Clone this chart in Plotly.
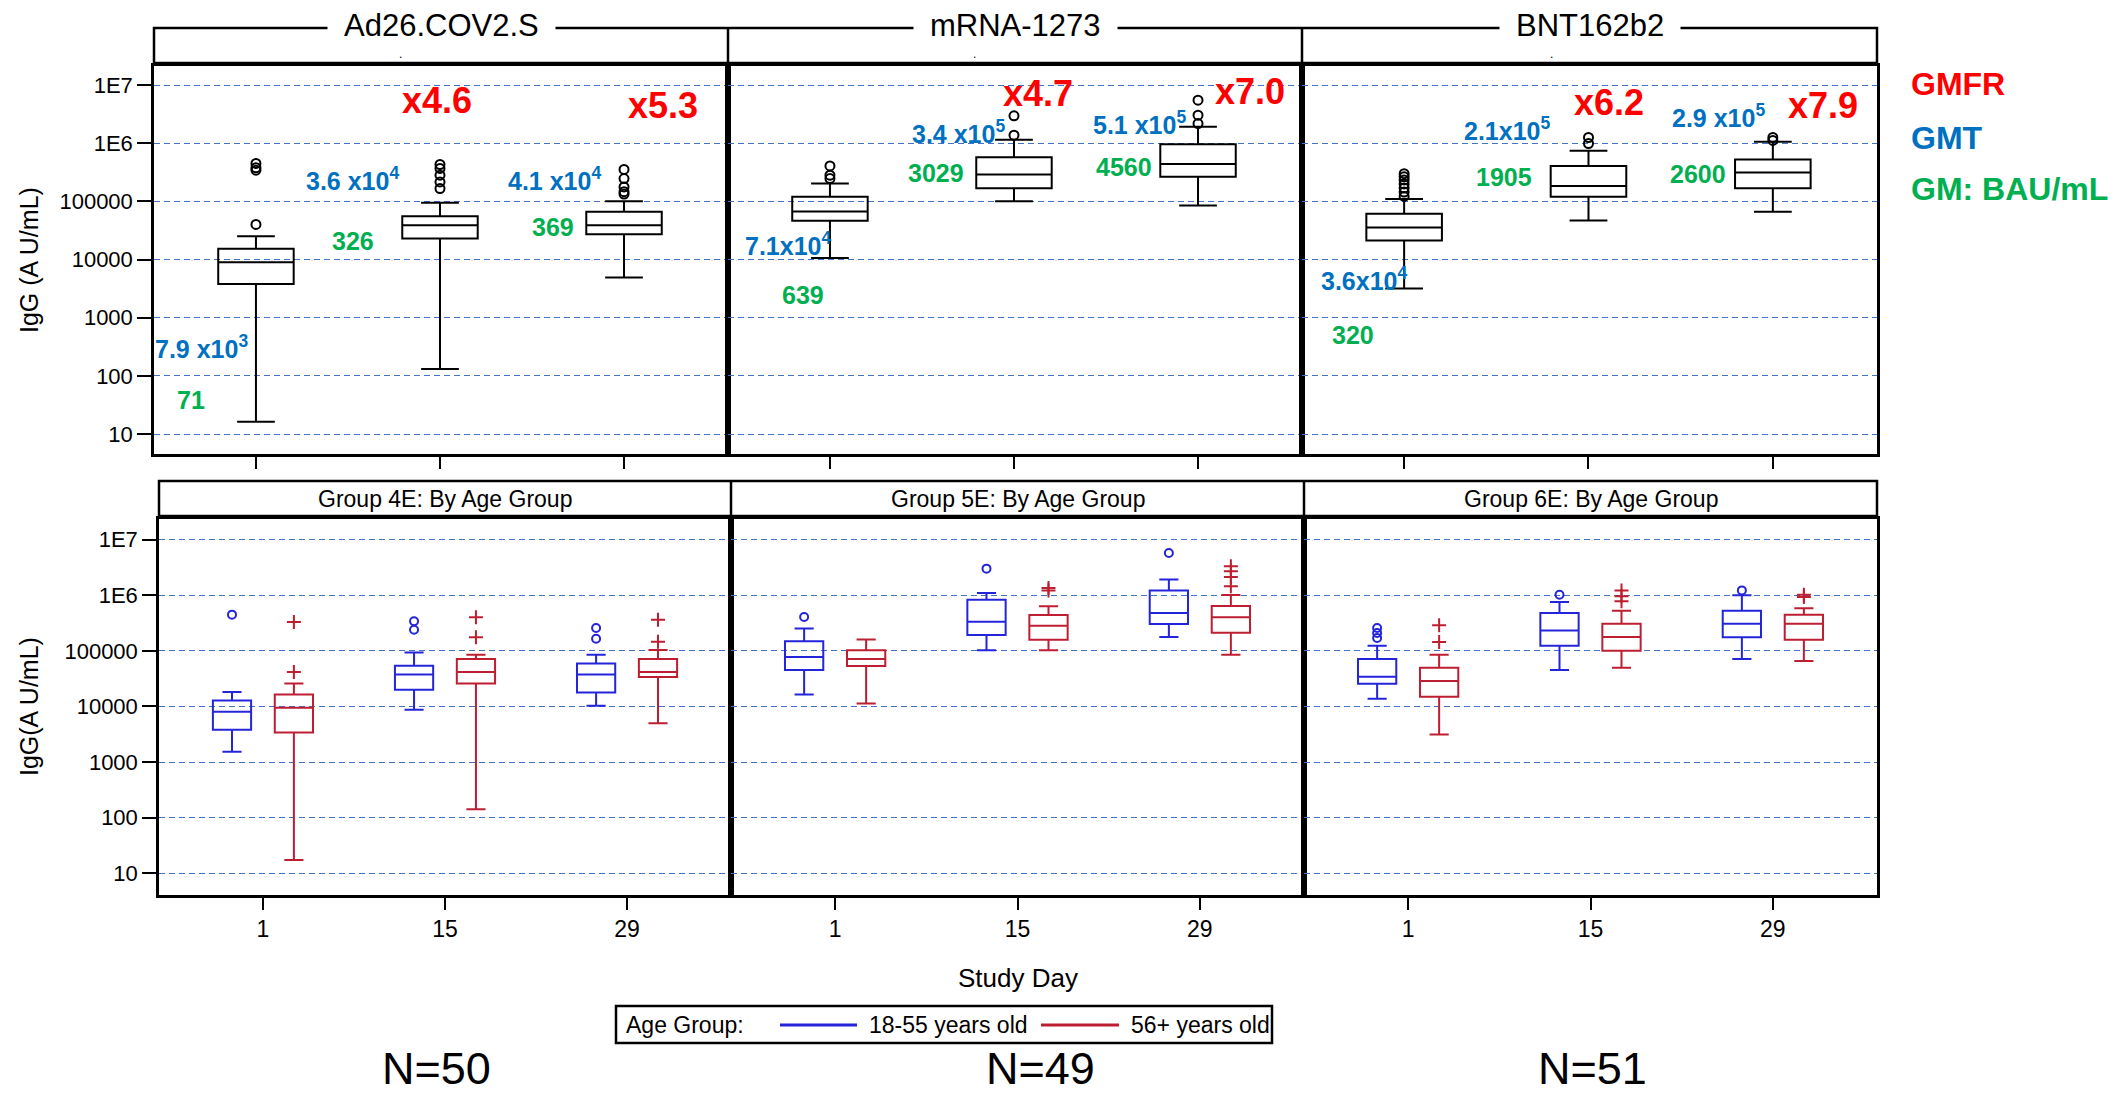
import plotly.graph_objects as go

W, H = 2124, 1096
FONT = "Liberation Sans, Arial, sans-serif"

# ---------------- data ----------------
DAYS = ["1", "15", "29"]
DAY_POS = [1, 2, 3]
VACCINES = ["Ad26.COV2.S", "mRNA-1273", "BNT162b2"]
GROUP_TITLES = ["Group 4E: By Age Group", "Group 5E: By Age Group", "Group 6E: By Age Group"]
N_LABELS = ["N=50", "N=49", "N=51"]
LEGEND_TITLE = "Age Group:"
AGE_GROUPS = ["18-55 years old", "56+ years old"]
Y_TICKVALS = [10, 100, 1000, 10000, 100000, 1000000, 10000000]
Y_TICKTEXT = ["10", "100", "1000", "10000", "100000", "1E6", "1E7"]

# box stats per day: [lower whisker, Q1, median, Q3, upper whisker]
AD26_STATS = [[16.2, 3790, 9040, 15300, 25300], [131, 23100, 39100, 55800, 94700], [4930, 27400, 39100, 66200, 101000]]
AD26_OUT = [[40200, 345000, 380000, 450000], [167000, 217000, 283000, 370000, 432000], [134000, 147000, 178000, 248000, 355000]]
MRNA_STATS = [[10700, 46500, 67300, 120000, 204000], [101000, 169000, 291000, 578000, 1150000], [85300, 265000, 443000, 967000, 1920000]]
MRNA_OUT = [[248000, 283000, 409000], [1380000, 2970000], [2190000, 3050000, 5520000]]
BNT_STATS = [[3190, 21300, 35700, 61300, 110000], [47100, 120000, 185000, 409000, 742000], [66200, 169000, 316000, 527000, 1060000]]
BNT_OUT = [[122000, 145000, 170000, 200000, 235000, 265000, 300000], [993000, 1260000], [1120000, 1260000]]

G4_YOUNG = [[1530, 3800, 8020, 12800, 18100], [8710, 19900, 37700, 53900, 93500], [10300, 17800, 37700, 59400, 85100]]
G4_YOUNG_OUT = [[447000], [240000, 339000], [165000, 257000]]
G4_OLD = [[17.4, 3400, 9460, 16400, 25900], [142, 25900, 41500, 71100, 85100], [5010, 33700, 41500, 71100, 103000]]
G4_OLD_OUT = [[41500, 330000], [175000, 400000], [146000, 363000]]
G5_YOUNG = [[16400, 45100, 77300, 148000, 253000], [102000, 192000, 334000, 832000, 1100000], [177000, 303000, 479000, 1210000, 1910000]]
G5_YOUNG_OUT = [[405000], [3000000], [5750000]]
G5_OLD = [[11300, 53200, 71100, 102000, 160000], [102000, 158000, 283000, 441000, 631000], [85100, 212000, 400000, 640000, 1010000]]
G5_OLD_OUT = [[], [1220000, 1350000], [1450000, 2130000, 2690000, 3310000]]
G6_YOUNG = [[13700, 25600, 34200, 71100, 124000], [45100, 124000, 233000, 479000, 755000], [71100, 175000, 308000, 527000, 995000]]
G6_YOUNG_OUT = [[170000, 209000, 257000], [1020000], [1220000]]
G6_OLD = [[3130, 14900, 28600, 49700, 85100], [49700, 100000, 177000, 308000, 527000], [65500, 158000, 308000, 447000, 581000]]
G6_OLD_OUT = [[144000, 287000], [776000, 955000, 1220000], [929000, 1020000]]

GMFR_TEXT = [[None, "x4.6", "x5.3"], [None, "x4.7", "x7.0"], [None, "x6.2", "x7.9"]]
GMT_TEXT = [["7.9 x10<sup>3</sup>", "3.6 x10<sup>4</sup>", "4.1 x10<sup>4</sup>"],
            ["7.1x10<sup>4</sup>", "3.4 x10<sup>5</sup>", "5.1 x10<sup>5</sup>"],
            ["3.6x10<sup>4</sup>", "2.1x10<sup>5</sup>", "2.9 x10<sup>5</sup>"]]
GM_TEXT = [["71", "326", "369"], ["639", "3029", "4560"], ["320", "1905", "2600"]]

# ---------------- layout geometry (pixels) ----------------
TOP_X_EDGES = [(154, 728), (728, 1302), (1302, 1877)]
TOP_Y_EDGE = (66, 454)
BOT_X_EDGES = [(159, 731), (731, 1304), (1304, 1877)]
BOT_Y_EDGE = (519, 895)
TOP_XRANGE = [0.446, 3.565]
BOT_XRANGE = [0.429, 3.571]
TOP_YRANGE = [0.656, 7.33]
BOT_YRANGE = [0.61, 7.37]

GMFR_POS = [[None, (437, 100), (663, 106)], [None, (1038, 93), (1250, 92)], [None, (1609, 102), (1823, 105)]]
GMT_POS = [[(201, 347), (352, 179), (554, 179)], [(788, 244), (958, 132), (1139, 123)], [(1364, 279), (1507, 129), (1718, 116)]]
GM_POS = [[(191, 400), (353, 241), (553, 227)], [(803, 295), (936, 173), (1124, 167)], [(1353, 335), (1504, 177), (1698, 174)]]
N_X = [436, 1040, 1592]

RED = "#FF0000"
BLUE_T = "#0070C0"
GREEN = "#00B050"
BLUE = "#2424DA"
CRIMSON = "#BE1E32"
GRID = "#4472C4"


def fx(x):
    return x / W


def fy(y):
    return 1 - y / H


fig = go.Figure()


def add_box(stats, outs, xa, ya, color, offset, width, sym, msize):
    xs = [p + offset for p in DAY_POS]
    fig.add_trace(go.Box(
        x=xs,
        lowerfence=[s[0] for s in stats], q1=[s[1] for s in stats],
        median=[s[2] for s in stats], q3=[s[3] for s in stats],
        upperfence=[s[4] for s in stats],
        width=width, whiskerwidth=0.5, boxpoints=False,
        line=dict(color=color, width=2), fillcolor="rgba(0,0,0,0)",
        xaxis=xa, yaxis=ya, showlegend=False, hoverinfo="skip"))
    ox = [p + offset for p, o in zip(DAY_POS, outs) for _ in o]
    oy = [v for o in outs for v in o]
    fig.add_trace(go.Scatter(
        x=ox, y=oy, mode="markers", xaxis=xa, yaxis=ya, showlegend=False, hoverinfo="skip",
        marker=dict(symbol=sym, size=msize, color=color, line=dict(color=color, width=2))))


TOP_DATA = [(AD26_STATS, AD26_OUT), (MRNA_STATS, MRNA_OUT), (BNT_STATS, BNT_OUT)]
for i, (st, ou) in enumerate(TOP_DATA):
    add_box(st, ou, "x" + ("" if i == 0 else str(i + 1)), "y" + ("" if i == 0 else str(i + 1)),
            "black", 0, 0.41, "circle-open", 9)

BOT_DATA = [(G4_YOUNG, G4_YOUNG_OUT, G4_OLD, G4_OLD_OUT),
            (G5_YOUNG, G5_YOUNG_OUT, G5_OLD, G5_OLD_OUT),
            (G6_YOUNG, G6_YOUNG_OUT, G6_OLD, G6_OLD_OUT)]
for i, (ys, yo, os_, oo) in enumerate(BOT_DATA):
    xa, ya = "x" + str(i + 4), "y" + str(i + 4)
    add_box(ys, yo, xa, ya, BLUE, -0.17, 0.21, "circle-open", 8)
    add_box(os_, oo, xa, ya, CRIMSON, 0.17, 0.21, "cross-thin-open", 10)

layout = dict(
    width=W, height=H, margin=dict(l=0, r=0, t=0, b=0, autoexpand=False),
    paper_bgcolor="white", plot_bgcolor="white",
    font=dict(family=FONT, color="black"),
    showlegend=False,
)

for i in range(6):
    top = i < 3
    k = i % 3
    xe = TOP_X_EDGES[k] if top else BOT_X_EDGES[k]
    ye = TOP_Y_EDGE if top else BOT_Y_EDGE
    suf = "" if i == 0 else str(i + 1)
    layout["xaxis" + suf] = dict(
        domain=[fx(xe[0]), fx(xe[1])], range=TOP_XRANGE if top else BOT_XRANGE,
        anchor="y" + suf, tickvals=DAY_POS, ticktext=DAYS, showticklabels=not top,
        ticks="outside", ticklen=12, tickwidth=2, tickcolor="black",
        tickfont=dict(size=23), showgrid=False, zeroline=False, automargin=False,
        showline=True, mirror=True, linecolor="black", linewidth=2.5)
    layout["yaxis" + suf] = dict(
        domain=[fy(ye[1]), fy(ye[0])], type="log", range=TOP_YRANGE if top else BOT_YRANGE,
        anchor="x" + suf, tickvals=Y_TICKVALS, ticktext=Y_TICKTEXT,
        showticklabels=(k == 0), ticks="outside" if k == 0 else "",
        ticklen=14, tickwidth=2, tickcolor="black", tickfont=dict(size=22),
        showgrid=True, gridcolor=GRID, gridwidth=1.3, griddash="6px,4px", automargin=False,
        zeroline=False, showline=True, mirror=True, linecolor="black", linewidth=2.5)

shapes = []
annotations = []


def paper_line(x0, y0, x1, y1, color="black", width=2.5):
    shapes.append(dict(type="line", xref="paper", yref="paper", x0=fx(x0), x1=fx(x1),
                       y0=fy(y0), y1=fy(y1), line=dict(color=color, width=width)))


def paper_text(text, x, y, size, color="black", xanchor="center", yanchor="middle", **kw):
    annotations.append(dict(text=text, x=fx(x), y=fy(y), xref="paper", yref="paper",
                            showarrow=False, font=dict(size=size, color=color),
                            xanchor=xanchor, yanchor=yanchor, **kw))


# header strips
shapes.append(dict(type="rect", xref="paper", yref="paper", x0=fx(154), x1=fx(1877),
                   y0=fy(63), y1=fy(28), line=dict(color="black", width=2.5)))
for xd in (728, 1302):
    paper_line(xd, 63, xd, 28)
shapes.append(dict(type="rect", xref="paper", yref="paper", x0=fx(159), x1=fx(1877),
                   y0=fy(516), y1=fy(481), line=dict(color="black", width=2.5)))
for xd in (731, 1304):
    paper_line(xd, 516, xd, 481)

for k in range(3):
    cx = (TOP_X_EDGES[k][0] + TOP_X_EDGES[k][1]) / 2
    paper_text(VACCINES[k], cx, 26, 31, bgcolor="white", borderpad=16)
    bx = (BOT_X_EDGES[k][0] + BOT_X_EDGES[k][1]) / 2
    paper_text(GROUP_TITLES[k], bx, 499, 23)
    annotations.append(dict(text=N_LABELS[k], x=fx(N_X[k]), y=0, xref="paper", yref="paper",
                            showarrow=False, font=dict(size=45), xanchor="center", yanchor="bottom"))
    for d in range(3):
        if GMFR_TEXT[k][d]:
            px_, py_ = GMFR_POS[k][d]
            paper_text("<b>%s</b>" % GMFR_TEXT[k][d], px_, py_, 36, RED)
        px_, py_ = GMT_POS[k][d]
        paper_text("<b>%s</b>" % GMT_TEXT[k][d], px_, py_, 25, BLUE_T)
        px_, py_ = GM_POS[k][d]
        paper_text("<b>%s</b>" % GM_TEXT[k][d], px_, py_, 25, GREEN)

for x_dot in (400, 974, 1551):
    paper_text(".", x_dot, 54, 12)

# key on the right
for txt, col, yy in (("GMFR", RED, 84), ("GMT", BLUE_T, 138), ("GM: BAU/mL", GREEN, 189)):
    paper_text("<b>%s</b>" % txt, 1909, yy, 32, col, xanchor="left")

# axis titles
paper_text("IgG (A U/mL)", 29, 260, 25, textangle=-90)
paper_text("IgG(A U/mL)", 29, 707, 25, textangle=-90)
paper_text("Study Day", 1018, 978, 26)

# legend (drawn as a keyed box below the panels)
shapes.append(dict(type="rect", xref="paper", yref="paper", x0=fx(616), x1=fx(1272),
                   y0=fy(1043), y1=fy(1006), line=dict(color="black", width=2.5),
                   fillcolor="white"))
paper_text(LEGEND_TITLE, 624, 1025, 23, xanchor="left")
paper_line(780, 1025, 857, 1025, BLUE, 3)
paper_text(AGE_GROUPS[0], 867, 1025, 23, xanchor="left")
paper_line(1041, 1025, 1119, 1025, CRIMSON, 3)
paper_text(AGE_GROUPS[1], 1129, 1025, 23, xanchor="left")

layout["shapes"] = shapes
layout["annotations"] = annotations
fig.update_layout(**layout)
fig.write_html("out.html", config={"displayModeBar": False},
               post_script="document.body.style.margin='0';document.body.style.overflow='hidden';")
